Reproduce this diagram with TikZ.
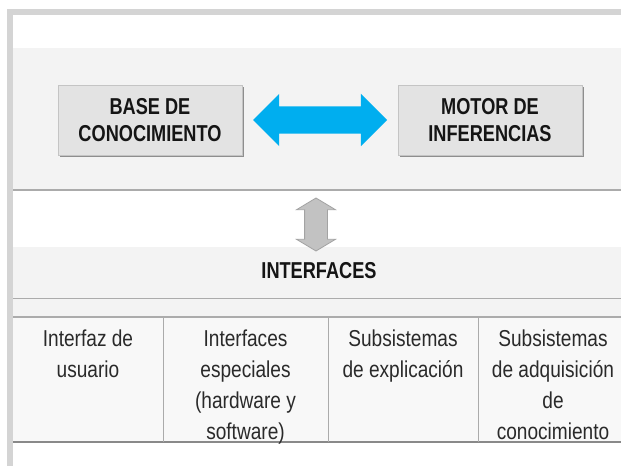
\documentclass[tikz,border=0pt]{standalone}
\usepackage{fontspec}
\setmainfont{Liberation Sans}
\newfontfamily\regf[FakeStretch=0.83]{Liberation Sans}
\newfontfamily\boldf[FakeStretch=0.79]{Liberation Sans}
\usetikzlibrary{shapes.arrows,calc}
\definecolor{framegray}{HTML}{D4D4D4}
\definecolor{bandgray}{HTML}{F3F3F3}
\definecolor{linegray}{HTML}{ABABAB}
\definecolor{boxfill}{HTML}{E3E3E3}
\definecolor{boxline}{HTML}{C4C4C4}
\definecolor{boxshadow}{HTML}{8E8E8E}
\definecolor{arrowblue}{HTML}{00AEEF}
\definecolor{arrowgray}{HTML}{C2C2C2}
\definecolor{arrowedge}{HTML}{A3A3A3}
\definecolor{txtdark}{HTML}{151515}
\definecolor{txtreg}{HTML}{2A2A2A}
\begin{document}
\begin{tikzpicture}[x=1pt,y=-1pt,
  compbox/.style={draw=boxline, line width=0.8pt, fill=boxfill, minimum width=184pt, minimum height=70pt,
    inner sep=0pt, align=center, text=txtdark, font=\boldf\bfseries\fontsize{23}{27}\selectfont},
  boxshade/.style={fill=boxshadow, draw=none, minimum width=184pt, minimum height=70pt, inner sep=0pt},
  bluearrow/.style={shape=double arrow, fill=arrowblue, draw=none, minimum height=134pt,
    inner sep=13.5pt, double arrow head extend=12.5pt, double arrow tip angle=90},
  grayarrow/.style={shape=double arrow, shape border rotate=90, fill=arrowgray, draw=arrowedge, line width=0.8pt,
    minimum height=53pt, inner sep=11pt, double arrow head extend=8pt, double arrow tip angle=118},
  heading/.style={text=txtdark, font=\boldf\bfseries\fontsize{23}{27}\selectfont, inner sep=0pt},
  celltext/.style={text=txtreg, font=\regf\fontsize{23}{31}\selectfont, align=center, inner sep=0pt, anchor=north},
  sepline/.style={draw=linegray, line width=1.5pt},
  colline/.style={draw=linegray, line width=1pt}]
\useasboundingbox (0,0) rectangle (621,466);
\fill[white] (0,0) rectangle (621,466);
% bands
\fill[bandgray] (13,48) rectangle (621,190);
\fill[bandgray] (13,247) rectangle (621,298);
\fill[bandgray] (13,299) rectangle (621,317);
\fill[bandgray!60!white] (13,317) rectangle (621,442);
% frame
\fill[framegray] (7,9) rectangle (621,15);
\fill[framegray] (7,9) rectangle (13,466);
% separators
\draw[sepline] (13,190) -- (621,190);
\draw[sepline] (13,298.5) -- (621,298.5);
\draw[sepline] (13,317) -- (621,317);
\draw[draw=linegray!80!black, line width=2pt] (13,442) -- (621,442);
\draw[colline] (163,317) -- (163,442);
\draw[colline] (328,317) -- (328,442);
\draw[colline] (478,317) -- (478,442);
% boxes
\node[boxshade] at (152,122) {};
\node[boxshade] at (492,122) {};
\node[compbox] (base) at (150,120) {BASE DE\\CONOCIMIENTO};
\node[compbox] (motor) at (490,120) {MOTOR DE\\INFERENCIAS};
\node[bluearrow] (link) at ($(base.east)!0.5!(motor.west)$) {};
% interfaces
\node[heading] (intf) at (319,271) {INTERFACES};
\node[grayarrow] (updown) at (316,224.5) {};
% table cells
\node[celltext] (c1) at (88,330) {Interfaz de\\usuario};
\node[celltext] (c2) at (245.5,330) {Interfaces\\especiales\\(hardware y\\software)};
\node[celltext] (c3) at (403,330) {Subsistemas\\de explicación};
\node[celltext] (c4) at (553,330) {Subsistemas\\de adquisición\\de\\conocimiento};
\end{tikzpicture}
\end{document}
